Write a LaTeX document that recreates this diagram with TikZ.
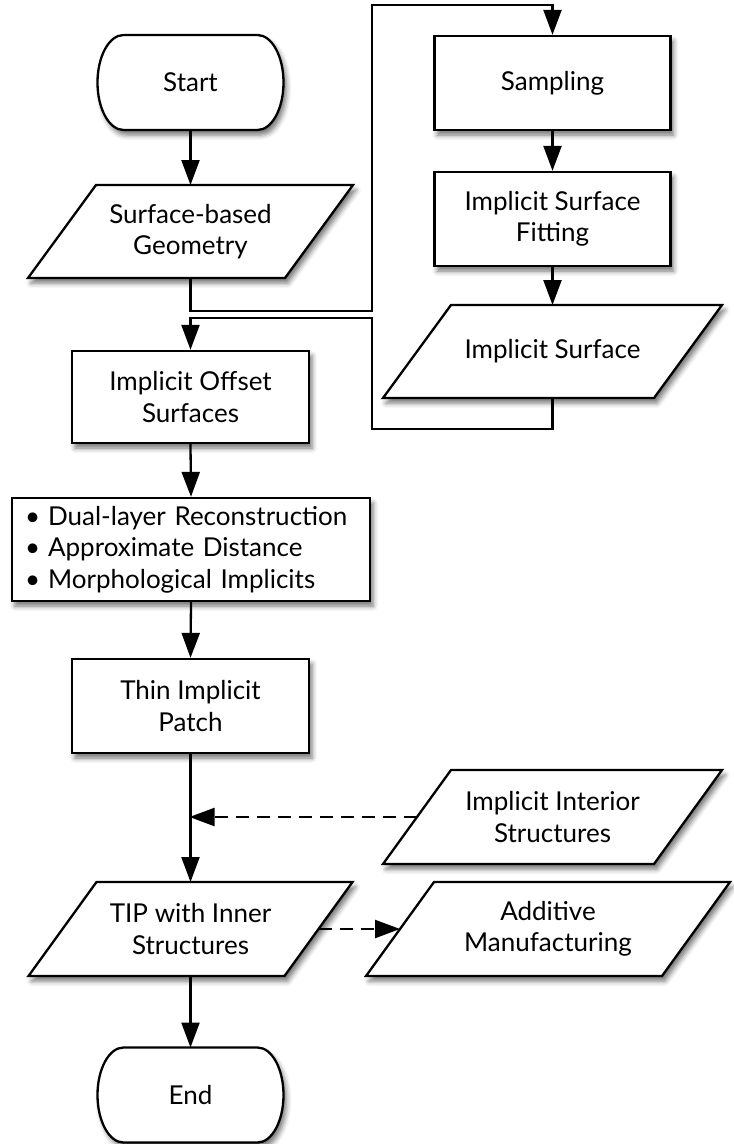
\documentclass[tikz,border=0pt]{standalone}
\usepackage{fontspec}
\setmainfont{Lato}
\usetikzlibrary{arrows.meta,shadows.blur,backgrounds}

\newcommand\chartfont{\fontsize{26pt}{31.5pt}\selectfont}

\tikzset{
  softshadow/.style={blur shadow={shadow xshift=3pt, shadow yshift=-5pt,
      shadow blur radius=5pt, shadow opacity=55}},
  outline/.style={draw, line width=2.3pt, fill=white, softshadow},
  procbox/.style={outline, rectangle, minimum width=236pt, minimum height=94pt,
      inner sep=0pt, align=center, font=\chartfont},
  % text area of a data (parallelogram) box; the outline is drawn below
  iobox/.style={rectangle, minimum height=93pt, outer sep=0pt, inner sep=0pt,
      align=center, font=\chartfont},
  terminal/.style={rectangle, minimum width=186pt, minimum height=95pt,
      outer sep=0pt, inner sep=0pt, font=\chartfont},
  flow/.style={line width=2.3pt, -{Triangle[length=25pt, width=18pt]}},
  hint/.style={flow, dash pattern=on 13pt off 8pt},
}

\begin{document}
\begin{tikzpicture}[x=1pt, y=-1pt]
\useasboundingbox (0,0) rectangle (734,1144);

% left column
\node[terminal] (start) at (190.5,82.5) {Start};
\node[iobox, minimum width=325pt] (surf) at (190.5,231.5) {Surface-based\\Geometry};
\node[procbox, minimum width=237pt, minimum height=92pt] (offset) at (190.5,397) {Implicit Offset\\Surfaces};
\node[procbox, minimum width=358pt, minimum height=103pt, text width=332pt,
      inner xsep=13pt, align=left] (methods) at (191,549.5)
  {\textbullet\hspace{8pt}Dual-layer Reconstruction\\
   \textbullet\hspace{8pt}Approximate Distance\\
   \textbullet\hspace{8pt}Morphological Implicits};
\node[procbox, minimum width=237pt] (thin) at (190.5,706) {Thin Implicit\\Patch};
\node[iobox, minimum width=324pt, minimum height=94pt] (tip) at (190.5,929) {TIP with Inner\\Structures};
\node[terminal] (end) at (190.5,1095) {End};

% right column
\node[procbox] (samp) at (552.5,83) {Sampling};
\node[procbox] (fit) at (552.5,219) {Implicit Surface\\Fitting};
\node[iobox, minimum width=339pt] (isurf) at (552.5,351.5) {Implicit Surface};
\node[iobox, minimum width=339pt, minimum height=94pt] (inter) at (552.5,817) {Implicit Interior\\Structures};
\node[iobox, minimum width=364pt, minimum height=94pt] (add) at (548,929) {Additive\\Manufacturing};

% outlines drawn behind the texts
\begin{scope}[on background layer]
  % terminators with elliptic ends
  \foreach \n in {start,end}{
    \draw[outline] ([xshift=26pt]\n.north west) -- ([xshift=-26pt]\n.north east)
      arc[start angle=90, end angle=-90, x radius=26pt, y radius=47.5pt]
      -- ([xshift=26pt]\n.south west)
      arc[start angle=270, end angle=90, x radius=26pt, y radius=47.5pt] -- cycle;
  }
  % data boxes, slanted by 68pt
  \foreach \n in {surf,tip,isurf,inter,add}{
    \draw[outline, line join=miter] ([xshift=68pt]\n.north west) -- (\n.north east)
      -- ([xshift=-68pt]\n.south east) -- (\n.south west) -- cycle;
  }
\end{scope}

% routing points of the loop through the right column
\coordinate (w1) at (372,311);
\coordinate (w2) at (372,5);
\coordinate (w3) at (372,429);
\coordinate (w4) at (372,318);
% points on the slanted sides at mid height
\coordinate (interL) at ([xshift=34pt]inter.west);
\coordinate (tipR) at ([xshift=-34pt]tip.east);
\coordinate (addL) at ([xshift=34pt]add.west);
\coordinate (join) at (thin.south |- interL);

% connectors
\draw[flow] (start.south) -- (surf.north);
\draw[flow] (surf.south) |- (w1) -- (w2) -| (samp.north);
\draw[flow] (samp.south) -- (fit.north);
\draw[flow] (fit.south) -- (isurf.north);
\draw[flow] (isurf.south) |- (w3) -- (w4) -| (offset.north);
\draw[flow] (offset.south) -- (methods.north);
\draw[flow] (methods.south) -- (thin.north);
\draw[flow] (thin.south) -- (tip.north);
\draw[flow] (tip.south) -- (end.north);
\draw[hint, shorten >=-1pt] (interL) -- (join);
\draw[hint] (tipR) -- (addL);
\end{tikzpicture}
\end{document}
